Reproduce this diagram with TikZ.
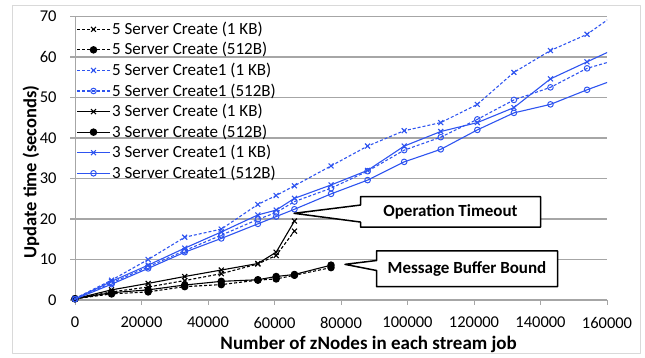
\documentclass[tikz,border=0pt]{standalone}
\usepackage{fontspec}
\setmainfont{Carlito}
\usetikzlibrary{plotmarks,shapes.callouts}
\definecolor{serblue}{RGB}{46,84,240}
\definecolor{gridgray}{RGB}{166,166,166}
\definecolor{framegray}{RGB}{217,217,217}
\tikzset{
  dsh/.style={dash pattern=on 3pt off 2pt},
  ser/.style={line width=1.1pt},
  mkx/.style={mark=x, mark size=3.5pt, mark options={solid}},
  mkdot/.style={mark=*, mark size=3.2pt, mark options={solid}},
  mko/.style={mark=o, mark size=2.8pt, mark options={solid, line width=1pt}},
  fiveCrKB/.style={ser, black, dsh, mkx},
  fiveCrB/.style={ser, black, dsh, mkdot},
  fiveCrOneKB/.style={ser, serblue, dsh, mkx},
  fiveCrOneB/.style={ser, serblue, dsh, mko},
  threeCrKB/.style={ser, black, mkx},
  threeCrB/.style={ser, black, mkdot},
  threeCrOneKB/.style={ser, serblue, mkx},
  threeCrOneB/.style={ser, serblue, mko},
  callbox/.style={rectangle callout, draw=black, line width=1.5pt, fill=white, inner sep=0pt,
    font=\fontsize{17}{20}\selectfont\bfseries},
}
\begin{document}
\begin{tikzpicture}[x=1pt, y=1pt, line join=round, >=stealth]
\useasboundingbox (0,0) rectangle (645,358);
\draw[framegray, line width=1pt] (12.5,4) rectangle (640,352.5);
% plot area, x in thousands
\begin{scope}[shift={(75,58)}, x=3.325pt, y=4.05pt]
  \def\xmax{160}\def\ymax{70}
  \foreach \y in {10,20,...,70}\draw[gridgray, line width=1.2pt] (-1.4,\y)--(\xmax,\y);
  \draw[gridgray, line width=1.2pt] (-1.4,0)--(\xmax,0);
  \draw[gridgray, line width=1pt] (0,0)--(0,\ymax);
  \foreach \x/\lab in {0/0,20/20000,40/40000,60/60000,80/80000,100/100000,120/120000,140/140000,160/160000}
    \draw[gridgray, line width=1pt] (\x,0)--(\x,-1.25) node[black, font=\fontsize{16.5}{18}\selectfont, anchor=center] (xl\x) at (\x,-5.6) {\lab};
  \foreach \y in {0,10,...,70}
    \node[font=\fontsize{16.5}{18}\selectfont, anchor=east] (yl\y) at (-4.5,\y) {\y};
  \begin{scope}
    \clip (-4,-3) rectangle (\xmax,75);
    \draw[fiveCrKB] plot coordinates {(0,0.3) (11,2.0) (22,3.2) (33,4.8) (44,6.5) (55,8.9) (60.5,11.0) (66,17.0)};
    \draw[fiveCrB] plot coordinates {(0,0.3) (11,1.5) (22,2.0) (33,3.3) (44,3.8) (55,4.9) (60.5,5.2) (66,6.1) (77,8.0)};
    \draw[fiveCrOneKB] plot coordinates {(0,0.4) (11,4.9) (22,10.0) (33,15.5) (44,17.5) (55,23.6) (60.5,25.8) (66,28.2) (77,33.1) (88,38.0) (99,41.8) (110,43.8) (121,48.3) (132,56.2) (143,61.6) (154,65.6) (165,72.0)};
    \draw[fiveCrOneB] plot coordinates {(0,0.3) (11,4.2) (22,8.2) (33,12.2) (44,16.0) (55,19.9) (60.5,21.6) (66,24.3) (77,27.6) (88,31.8) (99,37.0) (110,40.2) (121,44.6) (132,49.4) (143,52.5) (154,57.2) (165,59.8)};
    \draw[threeCrKB] plot coordinates {(0,0.3) (11,2.5) (22,4.1) (33,5.8) (44,7.4) (55,9.0) (60.5,11.8) (66,19.5)};
    \draw[threeCrB] plot coordinates {(0,0.3) (11,1.8) (22,2.5) (33,3.7) (44,4.6) (55,5.0) (60.5,5.8) (66,6.3) (77,8.6)};
    \draw[threeCrOneKB] plot coordinates {(0,0.3) (11,4.6) (22,8.6) (33,12.8) (44,16.8) (55,21.0) (60.5,22.2) (66,25.1) (77,28.4) (88,32.0) (99,38.0) (110,41.6) (121,43.8) (132,47.5) (143,54.6) (154,58.8) (165,63.0)};
    \draw[threeCrOneB] plot coordinates {(0,0.2) (11,3.9) (22,7.8) (33,11.8) (44,15.2) (55,18.8) (60.5,20.6) (66,22.4) (77,26.2) (88,29.6) (99,34.1) (110,37.2) (121,42.0) (132,46.2) (143,48.3) (154,51.9) (165,55.2)};
  \end{scope}
  \coordinate (tipTO) at (65.9,21.4);
  \coordinate (tipMB) at (81.2,8.8);
\end{scope}
% axis titles
\node[font=\fontsize{19}{22}\selectfont\bfseries] (xtitle) at (368.7,14) {Number of zNodes in each stream job};
\node[font=\fontsize{18.5}{22}\selectfont\bfseries, rotate=90] (ytitle) at (31,186) {Update time (seconds)};
% legend
\foreach \i/\sty/\txt in {0/fiveCrKB/5 Server Create (1 KB), 1/fiveCrB/5 Server Create (512B),
    2/fiveCrOneKB/5 Server Create1 (1 KB), 3/fiveCrOneB/5 Server Create1 (512B),
    4/threeCrKB/3 Server Create (1 KB), 5/threeCrB/3 Server Create (512B),
    6/threeCrOneKB/3 Server Create1 (1 KB), 7/threeCrOneB/3 Server Create1 (512B)}{
  \draw[\sty] (77,328.7-20.57*\i)--(110,328.7-20.57*\i);
  \draw[\sty] plot[only marks] coordinates {(93.5,328.7-20.57*\i)};
  \node[font=\fontsize{17}{20}\selectfont, anchor=west, inner sep=0pt] (leg\i) at (112,328.7-20.57*\i) {\txt};
}
% callouts
\node[callbox, callout absolute pointer={(tipTO)}, callout pointer width=17pt,
  minimum width=180pt, minimum height=30.5pt] (opTimeout) at (450.5,146.2) {Operation Timeout};
\node[callbox, callout absolute pointer={(tipMB)}, callout pointer width=10pt,
  minimum width=181pt, minimum height=35.7pt] (msgBound) at (467,89.2) {Message Buffer Bound};
\end{tikzpicture}
\end{document}
